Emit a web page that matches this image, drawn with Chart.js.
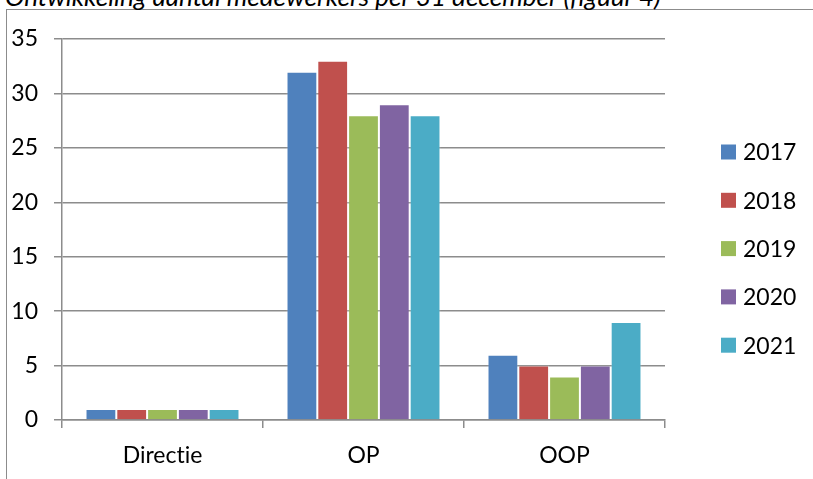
<!DOCTYPE html>
<html>
<head>
<meta charset="utf-8">
<script src="https://cdn.jsdelivr.net/npm/chart.js@4"></script>
<style>
  html, body { margin: 0; padding: 0; background: #fff; overflow: hidden; }
  #wrap { position: relative; width: 813px; height: 479px; }
  #frame { position: absolute; left: 6px; top: 9px; width: 820px; height: 480px;
           border-left: 1.5px solid #8c8c8c; border-top: 1.5px solid #8c8c8c; box-sizing: border-box; }
  #title { position: absolute; left: 5px; top: -17px; font: italic 26px Lato, sans-serif; line-height: 26px;
           color: #000; white-space: nowrap; font-variant-ligatures: none; }
  canvas { position: absolute; left: 0; top: 0; }
</style>
</head>
<body>
<div id="wrap">
  <div id="frame"></div>
  <div id="title">Ontwikkeling aantal medewerkers per 31 december (figuur 4)</div>
  <canvas id="c" width="813" height="479"></canvas>
</div>
<script>
// Staff headcount per 31 December, by group and year
const categories = ['Directie', 'OP', 'OOP'];
const years = ['2017', '2018', '2019', '2020', '2021'];
const v2017 = [1, 32, 6];
const v2018 = [1, 33, 5];
const v2019 = [1, 28, 4];
const v2020 = [1, 29, 5];
const v2021 = [1, 28, 9];
const yTicks = [0, 5, 10, 15, 20, 25, 30, 35];

const colors = ['#4F81BD', '#C0504D', '#9BBB59', '#8064A2', '#4BACC6'];
const seriesValues = [v2017, v2018, v2019, v2020, v2021];

const FONT = 'Lato, sans-serif';
const AXIS = '#8c8c8c';

// Plain glyphs, no "ti"/"fi" ligatures in canvas text
const plainText = {
  id: 'plainText',
  beforeDraw(chart) { chart.ctx.textRendering = 'optimizeSpeed'; }
};

// Legend drawn on the right, one row per year
const sideLegend = {
  id: 'sideLegend',
  afterDraw(chart) {
    const ctx = chart.ctx;
    ctx.save();
    ctx.font = '23px ' + FONT;
    ctx.textBaseline = 'middle';
    ctx.textAlign = 'left';
    chart.data.datasets.forEach((ds, i) => {
      const cy = 152 + i * 48.3;
      ctx.fillStyle = ds.backgroundColor;
      ctx.fillRect(721, cy - 7.5, 15, 15);
      ctx.fillStyle = '#000';
      ctx.fillText(ds.label, 743, cy + 1);
    });
    ctx.restore();
  }
};

new Chart(document.getElementById('c'), {
  type: 'bar',
  data: {
    labels: categories,
    datasets: years.map((y, i) => ({
      label: y,
      data: seriesValues[i],
      backgroundColor: colors[i],
      borderColor: 'rgba(255,255,255,0.3)',
      borderWidth: 1,
      categoryPercentage: 0.766,
      barPercentage: 1.0
    }))
  },
  options: {
    responsive: false,
    animation: false,
    events: [],
    layout: { padding: { left: 0, top: 39, right: 148, bottom: 0 } },
    plugins: { legend: { display: false }, tooltip: { enabled: false } },
    scales: {
      x: {
        afterFit(s) { s.height = 59; },
        grid: { drawOnChartArea: false, drawTicks: true, tickLength: 8, color: AXIS, lineWidth: 1.5, offset: true },
        border: { color: AXIS, width: 1.5 },
        ticks: { color: '#000', font: { family: FONT, size: 23 }, padding: 14 }
      },
      y: {
        min: 0,
        max: 35,
        afterFit(s) { s.width = 62; },
        afterBuildTicks(s) { s.ticks = yTicks.map(v => ({ value: v })); },
        grid: { color: AXIS, lineWidth: 1.5, tickLength: 8 },
        border: { color: AXIS, width: 1.5 },
        ticks: { color: '#000', font: { family: FONT, size: 23 }, padding: 16 }
      }
    }
  },
  plugins: [plainText, sideLegend]
});
</script>
</body>
</html>
